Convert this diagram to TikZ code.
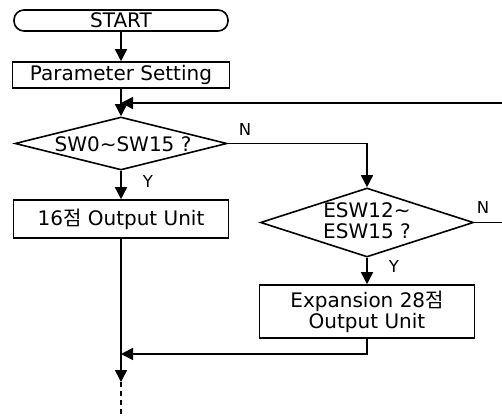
\documentclass[tikz,border=0pt]{standalone}
\usepackage{fontspec}
\setmainfont{DejaVu Sans}
\newfontfamily\krfont{Noto Sans CJK KR}
\usetikzlibrary{shapes.geometric,arrows.meta}

\begin{document}
\begin{tikzpicture}[x=1pt,y=1pt,
  line width=1.6pt,
  arr/.style={-{Triangle[length=12pt,width=12pt]}},
  txt/.style={font=\fontsize{20}{21}\selectfont, align=center, inner sep=0pt},
  procbox/.style={draw, rectangle, inner sep=0pt, txt},
  termbox/.style={draw, rectangle, rounded corners=10pt, inner sep=0pt, txt},
  decision/.style={draw, diamond, inner sep=0pt},
  lbl/.style={font=\fontsize{16.5}{18}\selectfont, inner sep=0pt}
]
\useasboundingbox (0,0) rectangle (502,416);
\clip (0,0) rectangle (502,416);

% left column
\node[termbox, minimum width=214pt, minimum height=21pt] (start) at (121,395.5) {START};
\node[procbox, minimum width=217pt, minimum height=26pt] (param) at (121,341) {Parameter Setting};
\node[decision, minimum width=212pt, minimum height=53pt] (d1) at (121,272.5) {};
\node[txt] (d1t) at (123,271.5) {SW0\textasciitilde SW15 ?};
\node[procbox, minimum width=215pt, minimum height=38pt] (out16) at (121,197) {16{\krfont 점} Output Unit};

% right column
\node[decision, minimum width=213pt, minimum height=69pt] (d2) at (367,193.5) {};
\node[txt, yshift=2pt] (d2t) at (d2) {ESW12\textasciitilde\\ESW15 ?};
\node[procbox, minimum width=215pt, minimum height=53pt] (out28) at (367,104.5) {Expansion 28{\krfont 점}\\Output Unit};

% branch labels
\node[lbl] (n1) at (245,287) {N};
\node[lbl] (y1) at (148,235) {Y};
\node[lbl] (n2) at (483,209) {N};
\node[lbl] (y2) at (394,150) {Y};

% junctions and free ends
\coordinate (loopin) at (121,313);
\coordinate (loopx) at (512,313);
\coordinate (merge) at (121,62);
\coordinate (cont) at (121,34);
\coordinate (pageend) at (121,0);

% connectors
\draw[arr] (start) -- (param);
\draw[arr] (param) -- (d1);
\draw[arr] (d1) -- (out16);
\draw[arr] (d1.east) -| (d2.north);
\draw[arr] (d2) -- (out28);
\draw[arr] (d2.east) -- (d2.east -| loopx) -- (loopx) -- (loopin);
\draw[arr] (out28.south) |- (merge);
\draw[arr] (out16) -- (cont);
\draw[dash pattern=on 5pt off 4pt] (cont) -- (pageend);
\end{tikzpicture}
\end{document}
